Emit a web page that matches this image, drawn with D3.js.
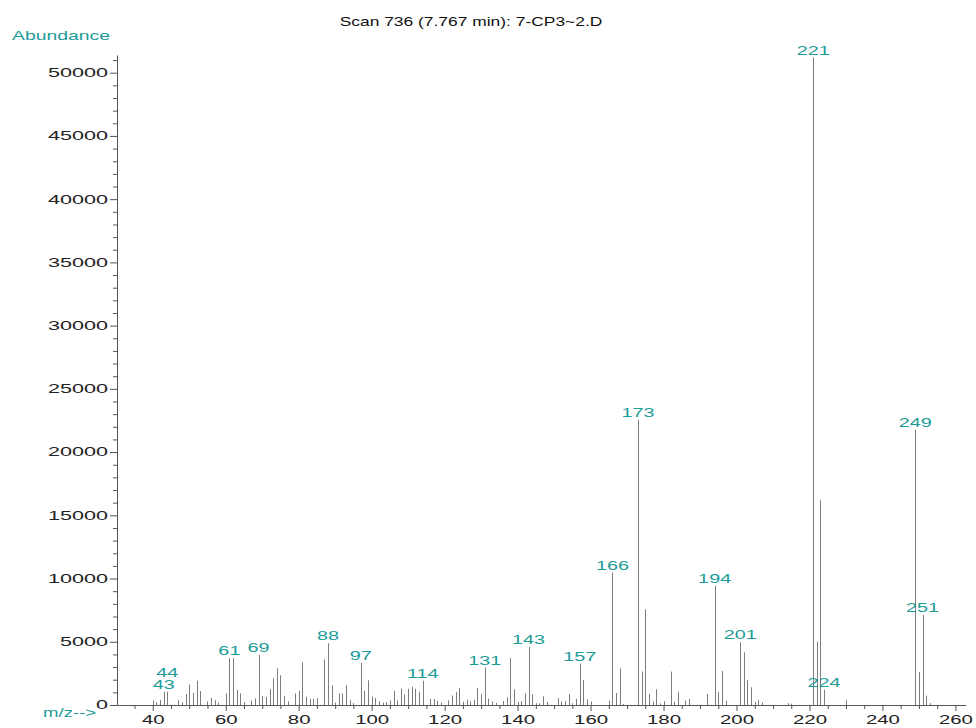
<!DOCTYPE html>
<html><head><meta charset="utf-8">
<script src="https://cdn.jsdelivr.net/npm/d3@7/dist/d3.min.js"></script>
<style>body{margin:0;background:#fff}svg{display:block}</style>
</head><body>
<svg id="chart" width="976" height="728"></svg>
<script>
const titleText = "Scan 736 (7.767 min): 7-CP3~2.D";
const yAxisTitle = "Abundance";
const xAxisTitle = "m/z-->";

const mz = [40,41,42,43,44,47,48,49,50,51,52,53,55,56,57,58,60,61,62,63,64,65,67,68,69,70,71,72,73,74,75,76,77,79,80,81,82,83,84,85,87,88,89,90,91,92,93,94,95,97,98,99,100,101,102,103,104,105,106,107,108,109,110,111,112,113,114,116,117,118,119,121,122,123,124,125,126,127,128,129,130,131,132,133,134,136,137,138,139,140,141,142,143,144,145,146,147,148,151,152,153,154,155,156,157,158,159,160,165,166,167,168,169,173,174,175,176,177,178,179,180,182,183,184,186,187,192,194,195,196,197,201,202,203,204,205,206,207,214,215,221,222,223,224,230,249,250,251,252,253];
const abundance = [350,220,400,1050,1050,380,220,870,1620,950,1920,1100,280,560,380,180,920,3700,3700,1180,920,230,360,520,3960,710,630,1260,2110,2900,2350,700,290,910,1120,3380,660,480,480,540,3600,4880,1560,190,920,920,1570,380,150,3330,1120,1950,680,560,290,190,230,360,1120,360,1300,830,1280,1440,1290,1050,1920,480,480,360,180,370,750,1020,1350,260,420,300,400,1350,850,2960,500,260,170,320,620,3710,1250,230,300,920,4600,850,140,140,690,240,530,270,320,880,140,490,3280,1990,450,270,340,10470,950,2900,90,22560,2650,7580,890,270,1240,130,300,2640,260,1050,350,480,870,9420,1030,2690,320,4960,4170,1980,1400,260,400,200,150,100,51200,5000,16200,1200,380,21770,2600,7120,740,150];
const labeledMz = [43,44,61,69,88,97,114,131,143,157,166,173,194,201,221,224,249,251];

const xTickValues = [40,60,80,100,120,140,160,180,200,220,240,260];
const yTickValues = [0,5000,10000,15000,20000,25000,30000,35000,40000,45000,50000];

const TEAL = "#1b9c97";
const FONT = "'Liberation Sans', Arial, Helvetica, sans-serif";

const svg = d3.select("#chart");
const x = d3.scaleLinear().domain([30.2, 262.9]).range([117, 966]);
const y = d3.scaleLinear().domain([0, 51400]).range([705, 55]);

// title
svg.append("text")
  .attr("transform", "translate(471,26) scale(1.34,1)")
  .attr("text-anchor", "middle")
  .attr("font-family", FONT).attr("font-size", 13).attr("fill", "#111")
  .text(titleText);

svg.append("text")
  .attr("transform", "translate(12,40) scale(1.55,1)")
  .attr("font-family", FONT).attr("font-size", 12.5).attr("fill", TEAL)
  .text(yAxisTitle);

svg.append("text")
  .attr("transform", "translate(43,717) scale(1.55,1)")
  .attr("font-family", FONT).attr("font-size", 12).attr("fill", TEAL)
  .text(xAxisTitle);

// Y axis
const ySX = 1.8;
const yAxisG = svg.append("g").attr("transform", "translate(117,0)")
  .style("color", "#555")
  .call(d3.axisLeft(y).tickValues(yTickValues).tickSize(7).tickPadding(2).tickSizeOuter(0).tickFormat(d3.format("d")));
yAxisG.selectAll("text")
  .attr("font-family", FONT).attr("font-size", 12).attr("fill", "#222")
  .attr("x", -9 / ySX).attr("transform", `scale(${ySX},1)`);

const yMinor = d3.range(0, 51001, 1000).filter(v => v % 5000 !== 0);
svg.append("g").attr("transform", "translate(117,0)")
  .style("color", "#555")
  .call(d3.axisLeft(y).tickValues(yMinor).tickSize(4).tickFormat(""))
  .call(g => g.select(".domain").remove());

// X axis
const xSX = 1.7;
const xAxisG = svg.append("g").attr("transform", "translate(0,705)")
  .style("color", "#555")
  .call(d3.axisBottom(x).tickValues(xTickValues).tickSize(6).tickPadding(4).tickSizeOuter(0));
xAxisG.selectAll("text")
  .attr("font-family", FONT).attr("font-size", 12).attr("fill", "#222")
  .attr("transform", `scale(${xSX},1)`);

const xMinor = d3.range(35, 261, 5).filter(v => v % 20 !== 0);
svg.append("g").attr("transform", "translate(0,705)")
  .style("color", "#555")
  .call(d3.axisBottom(x).tickValues(xMinor).tickSize(4).tickFormat(""))
  .call(g => g.select(".domain").remove());

// spectrum lines
const data = mz.map((m, i) => ({ mz: m, ab: abundance[i] }));
svg.append("g").selectAll("line").data(data).join("line")
  .attr("x1", d => Math.round(x(d.mz)) + 0.5)
  .attr("x2", d => Math.round(x(d.mz)) + 0.5)
  .attr("y1", y(0))
  .attr("y2", d => y(d.ab))
  .attr("stroke", "#7d7d7d").attr("stroke-width", 1);

// peak labels with simple collision avoidance
const lblSX = 1.65, charW = 6.67 * lblSX, lblH = 9;
const placed = [];
labeledMz.forEach(m => {
  const d = data.find(p => p.mz === m);
  const cx = x(m);
  const txt = String(m);
  const w = txt.length * charW;
  let bottom = y(d.ab) - 3;
  let moved = true;
  while (moved) {
    moved = false;
    for (const b of placed) {
      const hx = cx - w / 2 < b.x1 && cx + w / 2 > b.x0;
      const vy = bottom - lblH < b.bottom && bottom > b.bottom - lblH;
      if (hx && vy) { bottom = b.bottom - lblH - 3; moved = true; }
    }
  }
  placed.push({ x0: cx - w / 2, x1: cx + w / 2, bottom });
  svg.append("text")
    .attr("transform", `translate(${cx},${bottom}) scale(${lblSX},1)`)
    .attr("text-anchor", "middle")
    .attr("font-family", FONT).attr("font-size", 12).attr("fill", TEAL)
    .text(txt);
});
</script>
</body></html>
